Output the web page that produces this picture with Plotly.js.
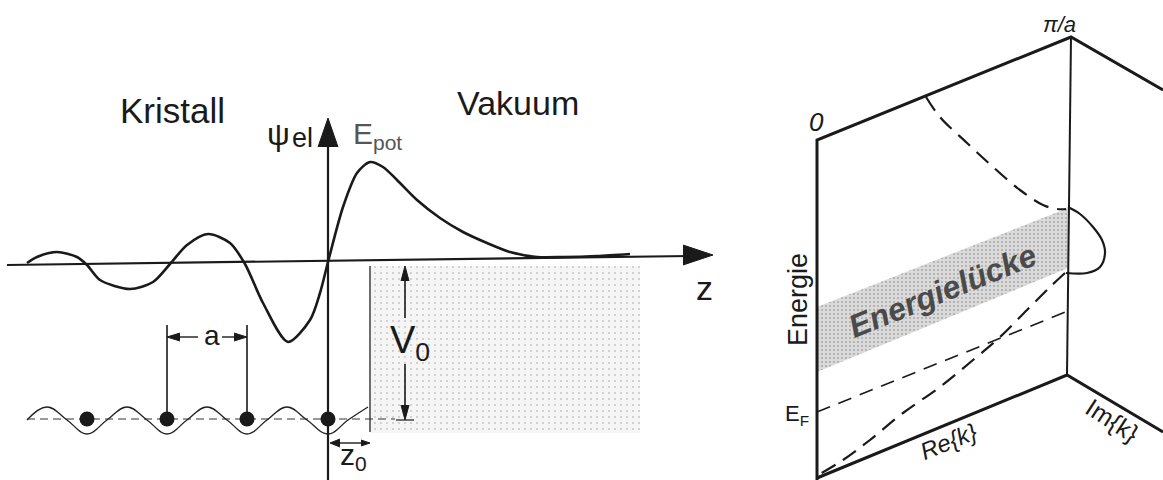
<!DOCTYPE html>
<html><head><meta charset="utf-8">
<script src="https://cdn.plot.ly/plotly-3.0.1.min.js"></script>
<style>html,body{margin:0;padding:0;background:#fff}</style>
</head><body><div id="plot" style="width:1163px;height:480px"></div>
<script>
// ---------- LEFT PANEL DATA (diagram coordinates) ----------
const psiX = [27, 37, 57, 77, 87, 100, 130, 153, 170, 187, 208, 230, 245, 263, 288, 310, 320, 328, 343, 357, 370, 383, 397, 417, 440, 463, 487, 510, 537, 563, 597, 630];
const psiY = [263, 257, 252, 257, 265, 280, 289, 282, 264, 245, 234, 243, 264, 303, 342, 320, 293, 262, 207, 173, 162, 167, 180, 200, 218, 232, 243, 252, 257, 257, 256, 254];
const zAxisX = [7, 690];
const zAxisY = [265, 256];
const zArrowX = [683, 713, 683];
const zArrowY = [245, 255, 265];
const vAxisX = [328, 328];
const vAxisY = [140, 480];
const vArrowX = [318, 328, 338];
const vArrowY = [147, 118, 147];
const latticeX = [27, 47, 67, 87, 107, 127, 147, 167, 187, 207, 227, 247, 267, 287, 307, 328, 348, 368];
const latticeY = [420, 407, 420, 434, 420, 407, 420, 434, 420, 407, 420, 434, 420, 407, 420, 434, 420, 407];
const atomX = [87, 167, 247, 328];
const atomY = [419, 419, 419, 419];
const baseX = [27, 395];
const baseY = [419, 419];
const surfaceX = [370, 370];
const surfaceY = [266, 432];
const vacuumX = [370, 640, 640, 370, 370];
const vacuumY = [266, 266, 433, 433, 266];
const aBarX = [167, 167, null, 247, 247];
const aBarY = [325, 419, null, 325, 419];
const aLineX = [172, 198, null, 222, 242];
const aLineY = [337, 337, null, 337, 337];
const aHeadLX = [180, 167, 180];
const aHeadLY = [333, 337, 341];
const aHeadRX = [234, 247, 234];
const aHeadRY = [333, 337, 341];
const v0LineX = [405, 405, null, 405, 405];
const v0LineY = [278, 318, null, 364, 408];
const v0HeadUX = [401, 405, 409];
const v0HeadUY = [281, 266, 281];
const v0HeadDX = [401, 405, 409];
const v0HeadDY = [405, 420, 405];
const v0TickX = [396, 414];
const v0TickY = [420, 420];
const z0LineX = [338, 364];
const z0LineY = [443, 443];
const z0HeadLX = [340, 330, 340];
const z0HeadLY = [439, 443, 447];
const z0HeadRX = [361, 370, 361];
const z0HeadRY = [440, 443, 446];

// ---------- RIGHT PANEL DATA ----------
const boxX = [817, 817, 1071, 1163];
const boxY = [480, 140, 37, 90];
const backEdgeX = [1071, 1067];
const backEdgeY = [37, 375];
const floorX = [817, 1067, 1163];
const floorY = [478, 375, 432];
const gapBandX = [817, 1068, 1068, 817, 817];
const gapBandY = [307, 208, 268, 372, 307];
const upperBandX = [926, 940, 967, 993, 1020, 1043, 1057, 1066];
const upperBandY = [97, 117, 143, 167, 190, 205, 209, 209];
const loopX = [1068, 1080, 1093, 1102, 1105, 1100, 1087, 1066];
const loopY = [207, 214, 227, 240, 253, 267, 273, 273];
const lowerBandX = [1065, 1050, 1027, 1000, 973, 940, 903, 870, 843, 820];
const lowerBandY = [273, 287, 310, 337, 360, 387, 413, 440, 460, 474];
const fermiX = [817, 1068];
const fermiY = [412, 311];

function line(x, y, w, opts) {
  return {x: x, y: y, mode: 'lines', type: 'scatter', hoverinfo: 'skip',
    line: Object.assign({color: '#1a1a1a', width: w}, opts || {})};
}
function tri(x, y, color) {
  return {x: x, y: y, mode: 'lines', type: 'scatter', fill: 'toself', fillcolor: color || '#1a1a1a',
    line: {color: color || '#1a1a1a', width: 1}, hoverinfo: 'skip'};
}

const traces = [
  {x: vacuumX, y: vacuumY, mode: 'lines', type: 'scatter', fill: 'toself', fillcolor: '#f4f4f4',
   fillpattern: {shape: '.', bgcolor: '#f5f5f5', fgcolor: '#c4c4c4', size: 6, solidity: 0.08},
   line: {width: 0, color: 'rgba(0,0,0,0)'}, hoverinfo: 'skip'},
  {x: gapBandX, y: gapBandY, mode: 'lines', type: 'scatter', fill: 'toself', fillcolor: '#d6d6d6',
   fillpattern: {shape: '.', bgcolor: '#dadada', fgcolor: '#a8a8a8', size: 4, solidity: 0.2},
   line: {width: 0, color: 'rgba(0,0,0,0)'}, hoverinfo: 'skip'},
  line(baseX, baseY, 1, {dash: '8px,5px', color: '#333'}),
  line(latticeX, latticeY, 1.3, {shape: 'spline', smoothing: 1.2, color: '#222'}),
  {x: atomX, y: atomY, mode: 'markers', type: 'scatter', marker: {size: 15, color: '#1a1a1a'}, hoverinfo: 'skip'},
  line(zAxisX, zAxisY, 2.2),
  tri(zArrowX, zArrowY),
  line(vAxisX, vAxisY, 2.2),
  tri(vArrowX, vArrowY),
  line(psiX, psiY, 2.6, {shape: 'spline', smoothing: 0.8}),
  line(surfaceX, surfaceY, 1.4, {color: '#333'}),
  line(aBarX, aBarY, 1.6),
  line(aLineX, aLineY, 1.4),
  tri(aHeadLX, aHeadLY), tri(aHeadRX, aHeadRY),
  line(v0LineX, v0LineY, 1.6),
  tri(v0HeadUX, v0HeadUY), tri(v0HeadDX, v0HeadDY),
  line(v0TickX, v0TickY, 1.2),
  line(z0LineX, z0LineY, 1.4),
  tri(z0HeadLX, z0HeadLY), tri(z0HeadRX, z0HeadRY),
  // right panel
  line(boxX, boxY, 3),
  line(backEdgeX, backEdgeY, 2),
  line(floorX, floorY, 3),
  line(upperBandX, upperBandY, 2.2, {dash: '16px,9px', shape: 'spline'}),
  line(loopX, loopY, 2.2, {shape: 'spline'}),
  line(lowerBandX, lowerBandY, 2.2, {dash: '16px,9px', shape: 'spline'}),
  line(fermiX, fermiY, 1.6, {dash: '14px,9px'})
];

const F = '"Liberation Sans", Arial, Helvetica, sans-serif';
function ann(text, x, y, size, extra) {
  return Object.assign({text: text, x: x, y: y, xref: 'x', yref: 'y', showarrow: false,
    xanchor: 'center', yanchor: 'middle', font: {family: F, size: size, color: '#1a1a1a'}}, extra || {});
}
const annotations = [
  ann('Kristall', 172, 110, 35),
  ann('Vakuum', 518, 103, 34),
  ann('ψ', 278, 134, 32),
  ann('el', 302, 138, 27),
  ann('E<sub>pot</sub>', 377, 135, 30, {font: {family: F, size: 30, color: '#555', weight: 300}}),
  ann('z', 704, 288, 34),
  ann('a', 212, 335, 28),
  ann('V<sub>0</sub>', 410, 343, 38),
  ann('z<sub>0</sub>', 353, 456, 30),
  ann('0', 816, 122, 26, {font: {family: F, size: 26, color: '#1a1a1a', style: 'italic'}}),
  ann('π/a', 1059, 24, 22, {font: {family: F, size: 22, color: '#1a1a1a', style: 'italic'}}),
  ann('Energie', 798, 300, 27, {textangle: -90}),
  ann('E<sub>F</sub>', 797, 415, 22),
  ann('Re{k}', 948, 441, 24, {textangle: -22, font: {family: F, size: 24, color: '#1a1a1a', style: 'italic'}}),
  ann('Im{k}', 1112, 420, 25, {textangle: 33}),
  ann('Energielücke', 942, 291, 32, {textangle: -22, font: {family: F, size: 32, color: '#4a4a4a', style: 'italic', weight: 'bold'}})
];

const layout = {
  width: 1163, height: 480,
  margin: {l: 0, r: 0, t: 0, b: 0},
  paper_bgcolor: '#ffffff', plot_bgcolor: '#ffffff',
  showlegend: false,
  xaxis: {range: [0, 1163], visible: false, fixedrange: true},
  yaxis: {range: [480, 0], visible: false, fixedrange: true},
  annotations: annotations
};
Plotly.newPlot('plot', traces, layout, {staticPlot: true, displayModeBar: false});
</script>
</body></html>
